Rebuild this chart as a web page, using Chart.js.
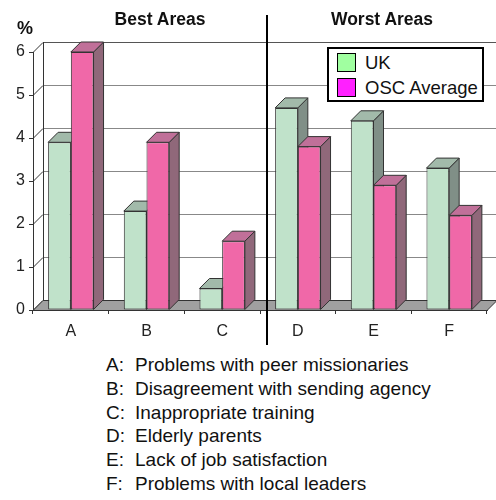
<!DOCTYPE html>
<html>
<head>
<meta charset="utf-8">
<script src="https://cdn.jsdelivr.net/npm/chart.js@4.4.0/dist/chart.umd.min.js"></script>
<style>
  body { margin: 0; background: #fff; }
  #wrap { position: relative; width: 496px; height: 500px; font-family: "Liberation Sans", Arial, sans-serif; color: #111; }
  #chart { position: absolute; left: 0; top: 0; }
  .title { position: absolute; top: 9px; font-weight: bold; font-size: 17.5px; transform: translateX(-50%); white-space: nowrap; }
  #pct { position: absolute; left: 17px; top: 18px; font-weight: bold; font-size: 18px; }
  #legend { position: absolute; left: 327px; top: 47px; width: 153px; height: 51px; border: 2px solid #000; background: #fff; }
  .item { position: absolute; left: 8px; height: 19px; font-size: 18.5px; line-height: 19px; white-space: nowrap; }
  .item span { display: inline-block; width: 17px; height: 17px; border: 1px solid #000; vertical-align: top; margin-right: 9px; }
  #notes { position: absolute; left: 106px; top: 353px; font-size: 19px; line-height: 23.8px; white-space: nowrap; }
  #notes b { font-weight: normal; display: inline-block; width: 29px; }
</style>
</head>
<body>
<div id="wrap">
  <canvas id="chart" width="496" height="345"></canvas>
  <div id="pct">%</div>
  <div class="title" style="left:160px">Best Areas</div>
  <div class="title" style="left:382px">Worst Areas</div>
  <div id="legend"></div>
  <div id="notes"></div>
</div>
<script>
// chart data
const categories = ['A', 'B', 'C', 'D', 'E', 'F'];
const descriptions = [
  'Problems with peer missionaries',
  'Disagreement with sending agency',
  'Inappropriate training',
  'Elderly parents',
  'Lack of job satisfaction',
  'Problems with local leaders'
];
const seriesNames = ['UK', 'OSC Average'];
const ukValues = [3.9, 2.3, 0.5, 4.7, 4.4, 3.3];
const oscValues = [6.0, 3.9, 1.6, 3.8, 2.9, 2.2];
const yTicks = [0, 1, 2, 3, 4, 5, 6];

// colours: front, top, side, legend swatch
const faces = [
  { front: '#c0e2ca', top: '#a2baaa', side: '#808f87', swatch: '#a0ffa0' },
  { front: '#f068a8', top: '#c07099', side: '#90687a', swatch: '#ff20ff' }
];

const DX = 10, DY = -10; // 3d depth offset

function poly(ctx, pts, fill, stroke) {
  ctx.beginPath();
  ctx.moveTo(pts[0][0], pts[0][1]);
  for (let i = 1; i < pts.length; i++) ctx.lineTo(pts[i][0], pts[i][1]);
  ctx.closePath();
  if (fill) { ctx.fillStyle = fill; ctx.fill(); }
  if (stroke) { ctx.strokeStyle = stroke; ctx.lineWidth = 1; ctx.stroke(); }
}

function line(ctx, x1, y1, x2, y2, color, w) {
  ctx.beginPath();
  ctx.moveTo(x1, y1);
  ctx.lineTo(x2, y2);
  ctx.strokeStyle = color;
  ctx.lineWidth = w || 1;
  ctx.stroke();
}

// walls, floor and the top/side faces of the bars
const depthPlugin = {
  id: 'depth',
  beforeDatasetsDraw(chart) {
    const ctx = chart.ctx, area = chart.chartArea, ys = chart.scales.y;
    ctx.save();
    ys.ticks.forEach(t => {
      const py = Math.round(ys.getPixelForValue(t.value)) + 0.5;
      line(ctx, area.left, py, area.left + DX, py + DY, '#333');
      if (t.value > 0) line(ctx, area.left + DX, py + DY, chart.width, py + DY, t.value === 6 ? '#555' : '#888');
    });
    line(ctx, area.left + DX + 0.5, area.top + DY, area.left + DX + 0.5, area.bottom + DY, '#333');
    poly(ctx, [[area.left, area.bottom + 0.5], [area.left + DX, area.bottom + DY + 0.5],
      [area.right + DX, area.bottom + DY + 0.5], [area.right, area.bottom + 0.5]], '#a0a0a0', '#333');

    [0, 1].forEach(di => {
      chart.getDatasetMeta(di).data.forEach(bar => {
        const p = bar.getProps(['x', 'y', 'base', 'width'], true);
        const l = p.x - p.width / 2, r = p.x + p.width / 2;
        poly(ctx, [[r, p.y], [r + DX, p.y + DY], [r + DX, p.base + DY], [r, p.base]], faces[di].side, '#333');
        poly(ctx, [[l, p.y], [l + DX, p.y + DY], [r + DX, p.y + DY], [r, p.y]], faces[di].top, '#333');
      });
    });
    ctx.restore();
  },
  afterDraw(chart) {
    const ctx = chart.ctx;
    ctx.save();
    line(ctx, 267, 15, 267, 345, '#000', 2);
    ctx.restore();
  }
};

const tickFont = { family: '"Liberation Sans", Arial, sans-serif', size: 16 };

new Chart(document.getElementById('chart'), {
  type: 'bar',
  data: {
    labels: categories,
    datasets: [ukValues, oscValues].map((vals, i) => ({
      label: seriesNames[i],
      data: vals,
      backgroundColor: faces[i].front,
      borderColor: '#333',
      borderWidth: 1,
      borderSkipped: false,
      categoryPercentage: 0.6,
      barPercentage: 1.0
    }))
  },
  options: {
    responsive: false,
    animation: false,
    events: [],
    layout: { padding: { left: 0, right: 9, top: 52, bottom: 0 } },
    plugins: { legend: { display: false }, tooltip: { enabled: false } },
    scales: {
      x: {
        grid: { drawOnChartArea: false, tickLength: 4, color: '#333' },
        border: { color: '#333' },
        ticks: { font: tickFont, color: '#222', padding: 8 },
        afterFit(s) { s.height = 35; }
      },
      y: {
        min: 0, max: 6,
        afterBuildTicks(s) { s.ticks = yTicks.map(v => ({ value: v })); },
        grid: { drawOnChartArea: false, tickLength: 4, color: '#333' },
        border: { color: '#333' },
        ticks: { font: tickFont, color: '#222', padding: 4 },
        afterFit(s) { s.width = 33; }
      }
    }
  },
  plugins: [depthPlugin]
});

// legend and footnotes
const legend = document.getElementById('legend');
seriesNames.forEach((name, i) => {
  const d = document.createElement('div');
  d.className = 'item';
  d.style.top = (4 + i * 25) + 'px';
  d.innerHTML = '<span style="background:' + faces[i].swatch + '"></span>' + name;
  legend.appendChild(d);
});
document.getElementById('notes').innerHTML = categories
  .map((c, i) => '<div><b>' + c + ':</b>' + descriptions[i] + '</div>').join('');
</script>
</body>
</html>
